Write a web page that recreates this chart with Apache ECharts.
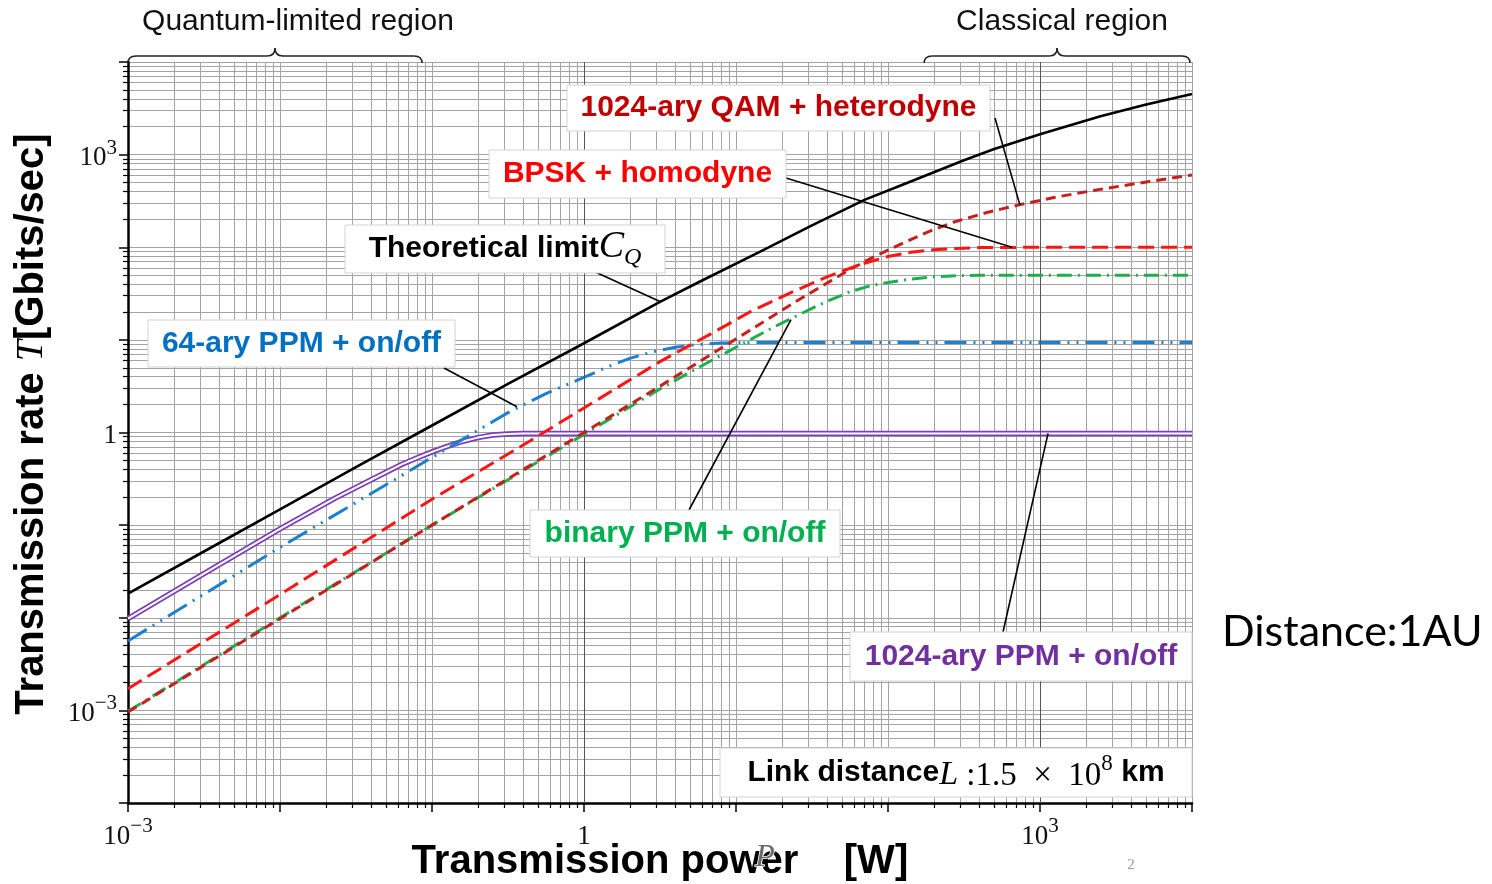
<!DOCTYPE html>
<html><head><meta charset="utf-8">
<script src="https://cdn.jsdelivr.net/npm/echarts@6/dist/echarts.min.js"></script>
<style>html,body{margin:0;padding:0;background:#fff}#c{width:1492px;height:884px}</style>
</head><body><div id="c"></div>
<script>
// ---- data (P [W], T [Gbits/sec]) ----
const theoreticalLimit = [[1e-3,0.0182],[3.16e-3,0.0519],[1e-2,0.148],[3.16e-2,0.422],[0.1,1.19],[0.316,3.35],[1,9.2],[3.16,25.7],[5.8,42.7],[15.1,93.3],[31.6,172],[70.6,327],[120,462],[316,871],[500,1148],[1000,1660],[2500,2594],[5000,3467],[10000,4520]];
const ppm1024 = [[1e-3,0.00977],[3.16e-3,0.0299],[1e-2,0.0912],[0.0229,0.1945],[0.0398,0.309],[0.0631,0.452],[0.0794,0.531],[0.1,0.617],[0.126,0.708],[0.158,0.8],[0.2,0.881],[0.251,0.938],[0.316,0.966],[0.398,0.975],[0.501,0.977],[10,0.977],[1e4,0.977]];
const ppm64 = [[1e-3,0.00562],[1e-2,0.0575],[0.1,0.537],[0.316,1.64],[0.562,2.63],[1,3.94],[1.413,5.07],[2.0,6.31],[2.818,7.41],[3.98,8.32],[5.62,8.91],[7.94,9.23],[12.6,9.35],[25,9.375],[1e4,9.375]];
const bpskHomodyne = [[1e-3,0.001714],[1e-2,0.01778],[0.1,0.1905],[0.398,0.733],[1,1.841],[3.16,5.82],[7.08,12.0],[12.6,20.4],[22.6,32.0],[39.8,47.9],[63.1,63.8],[100,79.4],[141,88.1],[200,93.8],[282,97.2],[398,99.1],[1000,100],[1e4,100]];
const qam1024Heterodyne = [[1e-3,0.000959],[1e-2,0.00977],[0.1,0.1],[1,1],[3.16,3.16],[10,10.23],[25.1,26.3],[56.2,57.5],[75,74.1],[100,93.3],[158.5,131.8],[199.5,154.9],[269,186.2],[446.7,237.1],[738,288.4],[1259,346.7],[2483,421.7],[5012,507],[1e4,602.6]];
const ppmBinary = [[1e-3,0.000977],[1e-2,0.01],[0.1,0.1],[1,0.955],[3.16,2.95],[5.8,5.13],[10,8.32],[17.8,13.8],[31.6,21.9],[42.2,27.2],[56.2,33.1],[75,38.0],[100,41.7],[141,45.2],[200,47.9],[282,49.2],[398,49.8],[1000,50],[1e4,50]];
const xRange = [1e-3, 1e4];
const yRange = [1e-4, 1e4];
const labeledDecades = [-3, 0, 3];
const darkGridX = [1, 1000];
// annotation anchors on curves (data space)
const anchorQAM = [738, 285];
const anchorBPSK = [655, 100];
const anchorLimit = [3.16, 26];
const anchorPPM64 = [0.362, 1.9];
const anchorBinary = [23, 16.5];
const anchorPPM1024 = [1130, 0.977];
const quantumRegion = [1e-3, 0.086];
const classicalRegion = [173, 9700];

const SERIF = "'Liberation Serif','DejaVu Serif',serif";
const SANS = "'Liberation Sans',Arial,sans-serif";

function decadeLabel(v){
  const e = Math.round(Math.log10(v));
  if (labeledDecades.indexOf(e) < 0) return '';
  if (e === 0) return '{n|1}';
  return '{n|10}{s|' + (e < 0 ? '\u2212' : '') + Math.abs(e) + '}';
}
const labelRich = {
  n:{fontFamily:SERIF, fontSize:27, color:'#111', lineHeight:34, verticalAlign:'bottom'},
  s:{fontFamily:SERIF, fontSize:21, color:'#111', lineHeight:34, verticalAlign:'top'}
};
function axisCfg(extra){
  return Object.assign({
    type:'log', logBase:10, interval:1,
    axisLine:{show:true, onZero:false, lineStyle:{color:'#000', width:2.5}},
    axisTick:{show:true, inside:false, length:9, lineStyle:{color:'#000', width:1.5}},
    minorTick:{show:true, splitNumber:9, length:5, lineStyle:{color:'#000', width:1.2}},
    splitLine:{show:true, lineStyle:{color:'#a3a3a3', width:1}},
    minorSplitLine:{show:true, lineStyle:{color:'#a3a3a3', width:1}}
  }, extra);
}
function lineSeries(name, data, color, width, type, z){
  return {name, type:'line', data, symbol:'none', showSymbol:false, smooth:false,
    clip:true, silent:true, animation:false, z, lineStyle:{color, width, type, join:'round'}};
}

const chart = echarts.init(document.getElementById('c'));
chart.setOption({
  animation:false,
  backgroundColor:'#fff',
  grid:{left:128, right:300, top:62, bottom:81},
  xAxis: axisCfg({min:xRange[0], max:xRange[1], axisLabel:{formatter:decadeLabel, rich:labelRich, margin:13, showMinLabel:true, showMaxLabel:true, hideOverlap:false}}),
  yAxis: axisCfg({min:yRange[0], max:yRange[1], axisLabel:{formatter:decadeLabel, rich:labelRich, margin:11, showMinLabel:true, showMaxLabel:true, hideOverlap:false}}),
  series:[
    {type:'line', data:[], silent:true, z:1, markLine:{silent:true, symbol:'none', animation:false, label:{show:false},
      lineStyle:{color:'#555', width:1, type:'solid'}, data: darkGridX.map(v=>({xAxis:v}))}},
    lineSeries('1024-ary PPM outer', ppm1024, '#7b3fb8', 5.5, 'solid', 3),
    lineSeries('1024-ary PPM inner', ppm1024, '#ffffff', 2, 'solid', 3),
    lineSeries('64-ary PPM + on/off', ppm64, '#1c7fd0', 3, [22,7,2,7,2,7], 4),
    lineSeries('binary PPM + on/off', ppmBinary, '#1fae4e', 3, [15,6,2,6], 5),
    lineSeries('1024-ary QAM + heterodyne', qam1024Heterodyne, '#c81e1e', 3, [10,6], 6),
    lineSeries('BPSK + homodyne', bpskHomodyne, '#ff1414', 3, [16,7], 7),
    lineSeries('Theoretical limit', theoreticalLimit, '#000000', 2.6, 'solid', 8)
  ]
});

function P(d){ return chart.convertToPixel({gridIndex:0}, d); }
function box(x,y,w,h,text,rich){
  return [
    {type:'rect', z:100, shape:{x,y,width:w,height:h}, style:{fill:'#fff', stroke:'#d2d2d2', lineWidth:1}},
    {type:'text', z:101, x:x+w/2, y:y+h/2, style:{text, rich, align:'center', verticalAlign:'middle', textAlign:'center', textVerticalAlign:'middle'}}
  ];
}
function leader(x1,y1,anchor){
  const p = P(anchor);
  return {type:'line', z:99, shape:{x1,y1,x2:p[0],y2:p[1]}, style:{stroke:'#000', lineWidth:1.6}};
}
function brace(range, yBase){
  const a = P([range[0], 1])[0], b = P([range[1], 1])[0], m = (a+b)/2;
  const y0 = yBase, y1 = yBase-7, y2 = yBase-15;
  const st = {stroke:'#222', lineWidth:1.5, fill:null};
  const q = (x1,yy1,cx,cy,x2,yy2)=>({type:'bezierCurve', z:100, shape:{x1,y1:yy1,x2,y2:yy2,cpx1:cx,cpy1:cy}, style:st});
  return [
    q(a,y0,a,y1,a+8,y1),
    {type:'line', z:100, shape:{x1:a+8,y1:y1,x2:m-8,y2:y1}, style:st},
    q(m-8,y1,m,y1,m,y2),
    q(m,y2,m,y1,m+8,y1),
    {type:'line', z:100, shape:{x1:m+8,y1:y1,x2:b-8,y2:y1}, style:st},
    q(b-8,y1,b,y1,b,y0)
  ];
}
const bold = c => ({fontFamily:SANS, fontWeight:'bold', fontSize:30, fill:c, color:c});
const g = [];
g.push(...box(567,85,423,46,'{a|1024-ary QAM + heterodyne}',{a:bold('#c00000')}));
g.push(leader(995,118,anchorQAM));
g.push(...box(489,150,297,48,'{a|BPSK + homodyne}',{a:bold('#ff0000')}));
g.push(leader(786,178,anchorBPSK));
g.push(...box(345,225,320,48,'{a|Theoretical limit}{c|C}{q|Q}',{a:bold('#000'),
  c:{fontFamily:SERIF, fontStyle:'italic', fontSize:38, fill:'#000', color:'#000', verticalAlign:'top', lineHeight:42},
  q:{fontFamily:SERIF, fontStyle:'italic', fontSize:24, fill:'#000', color:'#000', verticalAlign:'bottom', lineHeight:42}}));
g.push(leader(593,271,anchorLimit));
g.push(...box(148,320,307,47,'{a|64-ary PPM + on/off}',{a:bold('#0070c0')}));
g.push(leader(444,368,anchorPPM64));
g.push(...box(530,510,310,47,'{a|binary PPM + on/off}',{a:bold('#00b050')}));
g.push(leader(689,510,anchorBinary));
g.push(...box(850,632,342,49,'{a|1024-ary PPM + on/off}',{a:bold('#7030a0')}));
g.push(leader(1003,632,anchorPPM1024));
g.push(...box(720,748,472,49,'{a|Link distance}{l|L}{r| :1.5\u2002\u00d7\u200210}{s|8}{a| km}',{a:bold('#000'),
  l:{fontFamily:SERIF, fontStyle:'italic', fontSize:34, fill:'#000', color:'#000', lineHeight:40, verticalAlign:'bottom'},
  r:{fontFamily:SERIF, fontSize:33, fill:'#000', color:'#000', lineHeight:40, verticalAlign:'bottom'},
  s:{fontFamily:SERIF, fontSize:23, fill:'#000', color:'#000', lineHeight:40, verticalAlign:'top'}}));
g.push(...brace(quantumRegion, 63));
g.push(...brace(classicalRegion, 63));
const center = {align:'center', verticalAlign:'middle', textAlign:'center', textVerticalAlign:'middle'};
g.push({type:'text', z:100, x:298, y:22, style:Object.assign({text:'Quantum-limited region', font:'30px '+SANS, fill:'#111'}, center)});
g.push({type:'text', z:100, x:1062, y:22, style:Object.assign({text:'Classical region', font:'30px '+SANS, fill:'#111'}, center)});
g.push({type:'text', z:100, x:32, y:424, rotation:Math.PI/2, style:Object.assign({text:'{a|Transmission rate }{t|T}{a|[Gbits/sec]}',
  rich:{a:{fontFamily:SANS, fontWeight:'bold', fontSize:40, fill:'#000', color:'#000'}, t:{fontFamily:SERIF, fontStyle:'italic', fontSize:38, fill:'#000', color:'#000'}}}, center)});
g.push({type:'text', z:100, x:605, y:862, style:Object.assign({text:'Transmission power', font:'bold 40px '+SANS, fill:'#000'}, center)});
g.push({type:'text', z:100, x:876, y:862, style:Object.assign({text:'[W]', font:'bold 40px '+SANS, fill:'#000'}, center)});
g.push({type:'text', z:105, zlevel:0, x:765, y:858, style:Object.assign({text:'P', font:'italic 32px '+SERIF, fill:'#6a6a6a', stroke:'#ffffff', lineWidth:1.5}, center)});
g.push({type:'text', z:100, x:1131, y:865, style:Object.assign({text:'2', font:'15px '+SERIF, fill:'#999'}, center)});
g.push({type:'text', z:100, x:1222, y:632, style:{text:'Distance:1AU', font:'43px Lato, "Open Sans", sans-serif', fill:'#000', align:'left', verticalAlign:'middle', textAlign:'left', textVerticalAlign:'middle'}});
chart.setOption({graphic:{elements:g}});
</script>
</body></html>
